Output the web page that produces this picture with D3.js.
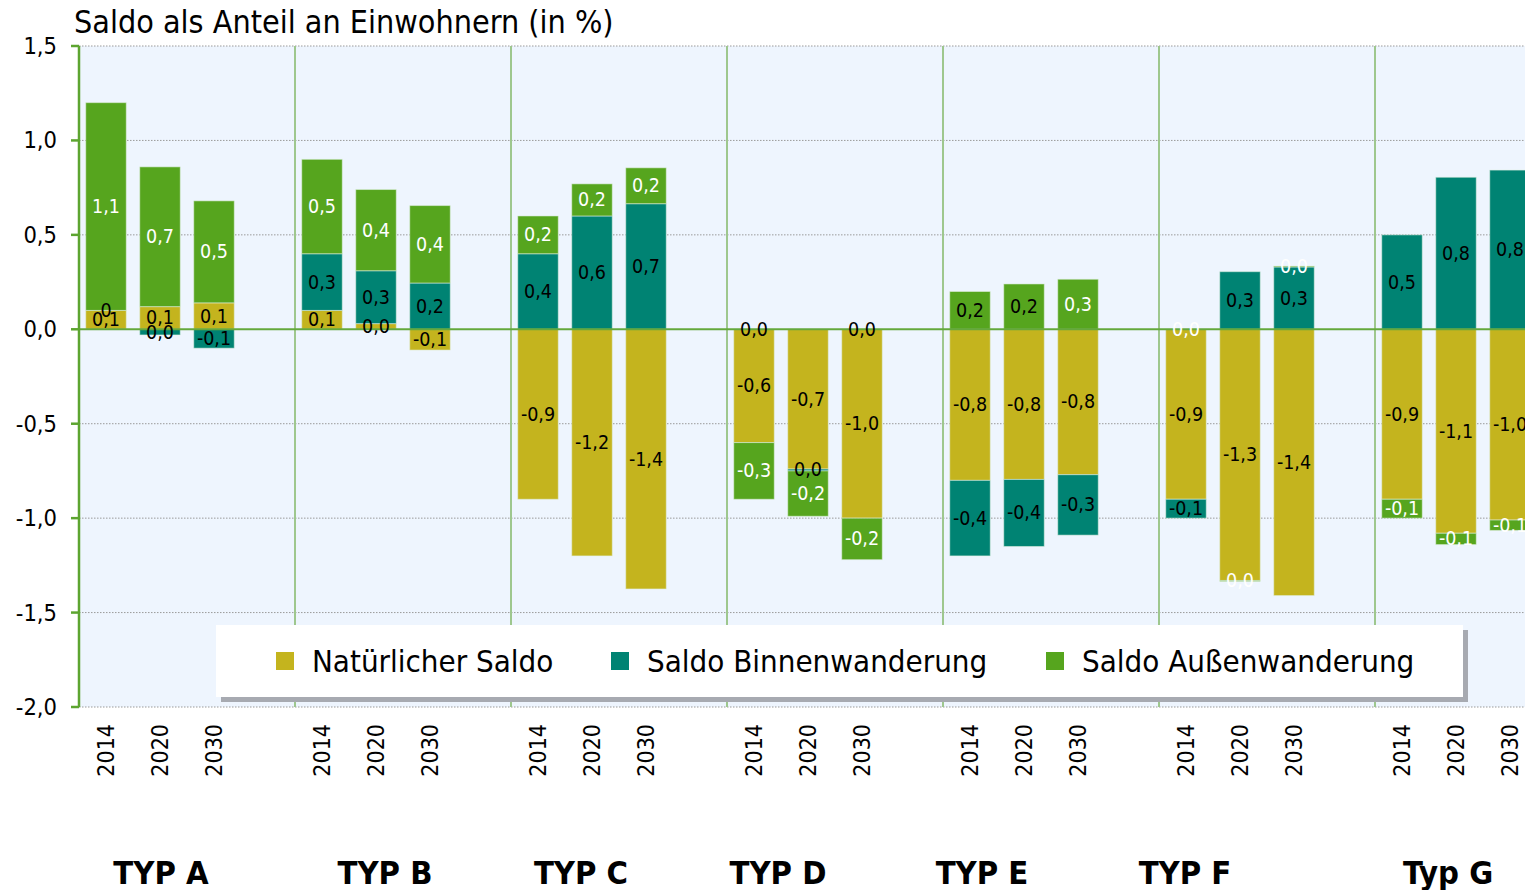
<!DOCTYPE html>
<html>
<head>
<meta charset="utf-8">
<script src="https://cdn.jsdelivr.net/npm/d3@7"></script>
<style>
  html, body { margin: 0; padding: 0; background: #ffffff; }
  svg { display: block; overflow: hidden; }
  text { font-family: "DejaVu Sans Condensed", "DejaVu Sans", sans-serif; font-stretch: condensed; }
</style>
</head>
<body>
<svg id="chart" width="1525" height="890"></svg>
<script>
// ---------------- DATA ----------------
const groups = ["TYP A", "TYP B", "TYP C", "TYP D", "TYP E", "TYP F", "Typ G"];
const years = ["2014", "2020", "2030"];
const seriesNames = ["Natürlicher Saldo", "Saldo Binnenwanderung", "Saldo Außenwanderung"];
const seriesKeys = ["natuerlich", "binnen", "aussen"];
const yTicks = [1.5, 1.0, 0.5, 0.0, -0.5, -1.0, -1.5, -2.0];

// values per group, in the order 2014, 2020, 2030
const natuerlich = [
  [0.10, 0.12, 0.14],
  [0.10, 0.03, -0.11],
  [-0.90, -1.20, -1.375],
  [-0.60, -0.74, -1.00],
  [-0.80, -0.795, -0.77],
  [-0.90, -1.33, -1.41],
  [-0.90, -1.08, -1.01]
];
const binnen = [
  [0.00, -0.03, -0.10],
  [0.30, 0.28, 0.245],
  [0.40, 0.60, 0.665],
  [0.00, -0.01, 0.00],
  [-0.40, -0.355, -0.32],
  [-0.10, 0.305, 0.33],
  [0.50, 0.805, 0.843]
];
const aussen = [
  [1.10, 0.74, 0.54],
  [0.50, 0.43, 0.41],
  [0.20, 0.17, 0.19],
  [-0.30, -0.24, -0.22],
  [0.20, 0.24, 0.265],
  [0.00, -0.005, 0.005],
  [-0.10, -0.06, -0.055]
];
// label text / colour exceptions seen in the original
const labelTextOverride = { "TYP A|2014|binnen": "0" };
const darkLabelOnGreen = ["TYP E|2014", "TYP E|2020"];

// ---------------- LAYOUT ----------------
const W = 1525, H = 890;
const plot = { left: 79, top: 46, bottom: 707, groupWidth: 216 };
const colors = { natuerlich: "#C4B41E", binnen: "#008373", aussen: "#56A51E" };
const groupLabelX = [161, 385, 581, 778, 982, 1185, 1448];

const svg = d3.select("#chart");

// table
const rows = [];
groups.forEach((g, gi) => {
  years.forEach((y, yi) => {
    rows.push({ group: g, year: y, natuerlich: natuerlich[gi][yi], binnen: binnen[gi][yi], aussen: aussen[gi][yi] });
  });
});

const x0 = d3.scaleBand().domain(groups)
  .range([plot.left, plot.left + plot.groupWidth * groups.length]).padding(0);
const x1 = d3.scaleBand().domain([...years, "_"])
  .range([0, x0.bandwidth()]).paddingInner(0.25).paddingOuter(0.125);
const y = d3.scaleLinear().domain([-2.0, 1.5]).range([plot.bottom, plot.top]);

const plotRight = W;

// background
svg.append("rect").attr("x", plot.left).attr("y", plot.top)
  .attr("width", plotRight - plot.left).attr("height", plot.bottom - plot.top)
  .attr("fill", "#EEF5FE");

// gridlines (dotted)
svg.append("g").selectAll("line").data(yTicks.filter(t => t !== 0)).join("line")
  .attr("x1", plot.left).attr("x2", plotRight)
  .attr("y1", d => y(d)).attr("y2", d => y(d))
  .attr("stroke", "#9a9a9a").attr("stroke-width", 1).attr("stroke-dasharray", "1.5,1.5");

// group separators
svg.append("g").selectAll("line").data(groups.slice(1)).join("line")
  .attr("x1", d => x0(d)).attr("x2", d => x0(d))
  .attr("y1", plot.top).attr("y2", plot.bottom)
  .attr("stroke", "#9EC78E").attr("stroke-width", 2);

// stack: positives and negatives stacked separately; zero values sit on the positive stack
function offsetSpreadsheet(series, order) {
  const n = series.length;
  if (!n) return;
  const m = series[order[0]].length;
  for (let j = 0; j < m; ++j) {
    let yp = 0, yn = 0;
    for (let i = 0; i < n; ++i) {
      const d = series[order[i]][j];
      const dy = d[1] - d[0];
      if (dy >= 0) { d[0] = yp; d[1] = yp += dy; }
      else { d[1] = yn; d[0] = yn += dy; }
    }
  }
}
const stack = d3.stack().keys(seriesKeys).offset(offsetSpreadsheet);
const stacked = stack(rows);

const fmt = v => {
  const r = Math.round(v * 10) / 10;
  if (Math.abs(r) < 0.05) return "0,0";
  return r.toFixed(1).replace(".", ",");
};

const barsG = svg.append("g");
stacked.forEach(s => {
  const key = s.key;
  barsG.append("g").selectAll("rect").data(s).join("rect")
    .attr("x", d => x0(d.data.group) + x1(d.data.year))
    .attr("width", x1.bandwidth())
    .attr("y", d => y(Math.max(d[0], d[1])))
    .attr("height", d => Math.abs(y(d[0]) - y(d[1])))
    .attr("fill", colors[key])
    .attr("stroke", "rgba(225,240,225,0.55)").attr("stroke-width", 1);
});

// zero line
svg.append("line").attr("x1", plot.left).attr("x2", plotRight)
  .attr("y1", y(0)).attr("y2", y(0))
  .attr("stroke", "#64A83C").attr("stroke-width", 2);

// labels
const labelsG = svg.append("g");
stacked.forEach(s => {
  const key = s.key;
  labelsG.append("g").selectAll("text").data(s).join("text")
    .attr("x", d => x0(d.data.group) + x1(d.data.year) + x1.bandwidth() / 2)
    .attr("y", d => y((d[0] + d[1]) / 2))
    .attr("text-anchor", "middle")
    .attr("dominant-baseline", "central")
    .attr("font-size", 19.5)
    .attr("fill", d => {
      if (key !== "aussen") return "#000";
      return darkLabelOnGreen.includes(d.data.group + "|" + d.data.year) ? "#000" : "#fff";
    })
    .text(d => {
      const o = labelTextOverride[d.data.group + "|" + d.data.year + "|" + key];
      return o !== undefined ? o : fmt(d.data[key]);
    });
});

// y axis
svg.append("line").attr("x1", plot.left).attr("x2", plot.left)
  .attr("y1", plot.top).attr("y2", plot.bottom)
  .attr("stroke", "#5DA530").attr("stroke-width", 2.5);
const yAxisG = svg.append("g");
yAxisG.selectAll("line").data(yTicks).join("line")
  .attr("x1", plot.left - 8).attr("x2", plot.left)
  .attr("y1", d => y(d)).attr("y2", d => y(d))
  .attr("stroke", "#5DA530").attr("stroke-width", 2.5);
yAxisG.selectAll("text").data(yTicks).join("text")
  .attr("x", plot.left - 22).attr("y", d => y(d))
  .attr("text-anchor", "end").attr("dominant-baseline", "central")
  .attr("font-size", 23.5).attr("fill", "#000")
  .text(d => d.toFixed(1).replace(".", ","));

// year labels
svg.append("g").selectAll("text").data(rows).join("text")
  .attr("transform", d => `translate(${x0(d.group) + x1(d.year) + x1.bandwidth() / 2},${plot.bottom + 17}) rotate(-90)`)
  .attr("text-anchor", "end").attr("dominant-baseline", "central")
  .attr("font-size", 23).attr("fill", "#000")
  .text(d => d.year);

// group labels
svg.append("g").selectAll("text").data(groups).join("text")
  .attr("x", (d, i) => groupLabelX[i]).attr("y", 884)
  .attr("text-anchor", "middle").attr("font-weight", "bold")
  .attr("font-size", 32.5).attr("fill", "#000")
  .text(d => d);

// title
svg.append("text").attr("x", 74).attr("y", 33)
  .attr("font-size", 32).attr("fill", "#000")
  .text("Saldo als Anteil an Einwohnern (in %)");

// legend
const lg = svg.append("g");
lg.append("rect").attr("x", 221).attr("y", 630).attr("width", 1247).attr("height", 72).attr("fill", "#A7AAB1");
lg.append("rect").attr("x", 216).attr("y", 625).attr("width", 1247).attr("height", 72).attr("fill", "#ffffff");
const legendX = [276, 611, 1046];
seriesKeys.forEach((k, i) => {
  lg.append("rect").attr("x", legendX[i]).attr("y", 652).attr("width", 18).attr("height", 18).attr("fill", colors[k]);
  lg.append("text").attr("x", legendX[i] + 36).attr("y", 661)
    .attr("dominant-baseline", "central").attr("font-size", 31).attr("fill", "#000")
    .text(seriesNames[i]);
});
</script>
</body>
</html>
